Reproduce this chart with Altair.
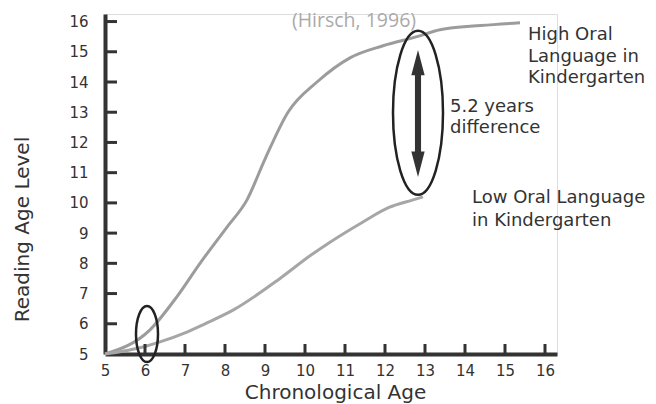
import altair as alt
import pandas as pd

# ---- data ----
high_age = [5, 6.125, 6.8, 7.375, 8.05, 8.55, 9.0, 9.575, 10.3, 11.125, 11.95, 12.8, 13.375, 14.4, 15.375]
high_val = [5, 5.8, 6.9, 8.0, 9.2, 10.1, 11.45, 13.0, 14.0, 14.8, 15.2, 15.5, 15.73, 15.87, 15.96]
low_age = [5, 6.0, 6.375, 7.0, 7.5, 8.2, 9.375, 10.125, 10.625, 11.45, 12.1, 12.7, 12.95]
low_val = [5, 5.25, 5.4, 5.7, 6.0, 6.45, 7.5, 8.25, 8.7, 9.37, 9.85, 10.1, 10.2]
x_ticks = list(range(5, 17))
y_ticks = list(range(5, 17))

label_text = ["High Oral", "Language in", "Kindergarten", "5.2 years", "difference",
              "Low Oral Language", "in Kindergarten"]
label_age = [15.575, 15.575, 15.575, 13.625, 13.625, 14.175, 14.175]
label_val = [15.56, 14.83, 14.14, 13.18, 12.48, 10.17, 9.40]

ell_age = [12.825, 6.05]
ell_val = [12.98, 5.66]
arrow_age = [12.825]
arrow_val = [12.96]

title_text = ["Reading Growth", "(Hirsch, 1996)"]
title_age = [11.2, 11.225]
title_val = [16.7, 15.83]
title_size = [32, 19.5]

# ---- tables ----
curves = pd.DataFrame({
    "age": high_age + low_age,
    "val": high_val + low_val,
    "series": ["High"] * len(high_age) + ["Low"] * len(low_age),
})
xt = pd.DataFrame({"age": x_ticks[1:], "val": [5] * (len(x_ticks) - 1), "val2": [5.33] * (len(x_ticks) - 1)})
yt = pd.DataFrame({"val": y_ticks[1:], "age": [5] * (len(y_ticks) - 1), "age2": [5.3] * (len(y_ticks) - 1)})
labels = pd.DataFrame({"age": label_age, "val": label_val, "text": label_text})
big_ell = pd.DataFrame({"age": ell_age[:1], "val": ell_val[:1]})
small_ell = pd.DataFrame({"age": ell_age[1:], "val": ell_val[1:]})
arrow = pd.DataFrame({"age": arrow_age, "val": arrow_val})
titles = pd.DataFrame({"age": title_age, "val": title_val, "text": title_text, "size": title_size})

FONT = "DejaVu Sans"
xs = alt.Scale(domain=[5, 16.3], nice=False, zero=False)
ys = alt.Scale(domain=[5, 16.25], nice=False, zero=False)
xaxis = alt.Axis(values=x_ticks, title="Chronological Age", ticks=False, grid=False,
                 domainColor="#333333", domainWidth=4, labelFont=FONT, labelFontSize=15,
                 labelColor="#333333", labelPadding=9, titleFont=FONT, titleFontSize=20,
                 titleFontWeight="normal", titleColor="#333333", titleX=230, titleY=44,
                 titleBaseline="alphabetic", titleAnchor="middle", titleAlign="center", labelFlush=False)
yaxis = alt.Axis(values=y_ticks, title="Reading Age Level", ticks=False, grid=False,
                 domainColor="#333333", domainWidth=4, labelFont=FONT, labelFontSize=15,
                 labelColor="#333333", labelPadding=17, titleFont=FONT, titleFontSize=20,
                 titleFontWeight="normal", titleColor="#333333", titleX=-83, titleY=215,
                 titleAngle=-90, titleAlign="center", titleBaseline="middle", labelFlush=False)

X = alt.X("age:Q", scale=xs, axis=xaxis)
Y = alt.Y("val:Q", scale=ys, axis=yaxis)

lines = alt.Chart(curves).mark_line(strokeWidth=3, interpolate="monotone").encode(
    x=X, y=Y,
    color=alt.Color("series:N", scale=alt.Scale(domain=["High", "Low"], range=["#9c9c9c", "#a6a6a6"]), legend=None),
)

xtick_layer = alt.Chart(xt).mark_rule(color="#333333", strokeWidth=3).encode(
    x=X, y=Y, y2="val2:Q")
ytick_layer = alt.Chart(yt).mark_rule(color="#333333", strokeWidth=3).encode(
    x=X, x2="age2:Q", y=Y)

big = alt.Chart(big_ell).mark_point(
    shape="M0,-1 A0.305,1 0 1,1 0,1 A0.305,1 0 1,1 0,-1 Z",
    size=164 * 164, filled=False, stroke="#222222", strokeWidth=2.5, opacity=1).encode(x=X, y=Y)
small = alt.Chart(small_ell).mark_point(
    shape="M0,-1 A0.393,1 0 1,1 0,1 A0.393,1 0 1,1 0,-1 Z",
    size=56 * 56, filled=False, stroke="#222222", strokeWidth=2.5, opacity=1).encode(x=X, y=Y)

arrow_layer = alt.Chart(arrow).mark_point(
    shape="M0,-1 L0.105,-0.6 L0.048,-0.6 L0.048,0.6 L0.105,0.6 L0,1 L-0.105,0.6 L-0.048,0.6 L-0.048,-0.6 L-0.105,-0.6 Z",
    size=127 * 127, filled=True, fill="#333333", strokeWidth=0, opacity=1).encode(x=X, y=Y)

label_layer = alt.Chart(labels).mark_text(
    align="left", baseline="middle", font=FONT, fontSize=18, color="#333333").encode(
    x=X, y=Y, text="text:N")

title_layer = alt.Chart(titles).mark_text(
    align="center", baseline="alphabetic", font="Open Sans", color="#aaaaaa").encode(
    x=X, y=Y, text="text:N", size=alt.Size("size:Q", scale=None, legend=None))

chart = alt.layer(
    lines, xtick_layer, ytick_layer, big, small, arrow_layer, label_layer, title_layer
).properties(
    width=452, height=340,
    autosize=alt.AutoSizeParams(type="none"),
    padding={"left": 97, "top": 6, "right": 91, "bottom": 50},
).configure_view(stroke=None).configure(background="white")

chart.save("out.html", embed_options={"renderer": "svg", "actions": False})
